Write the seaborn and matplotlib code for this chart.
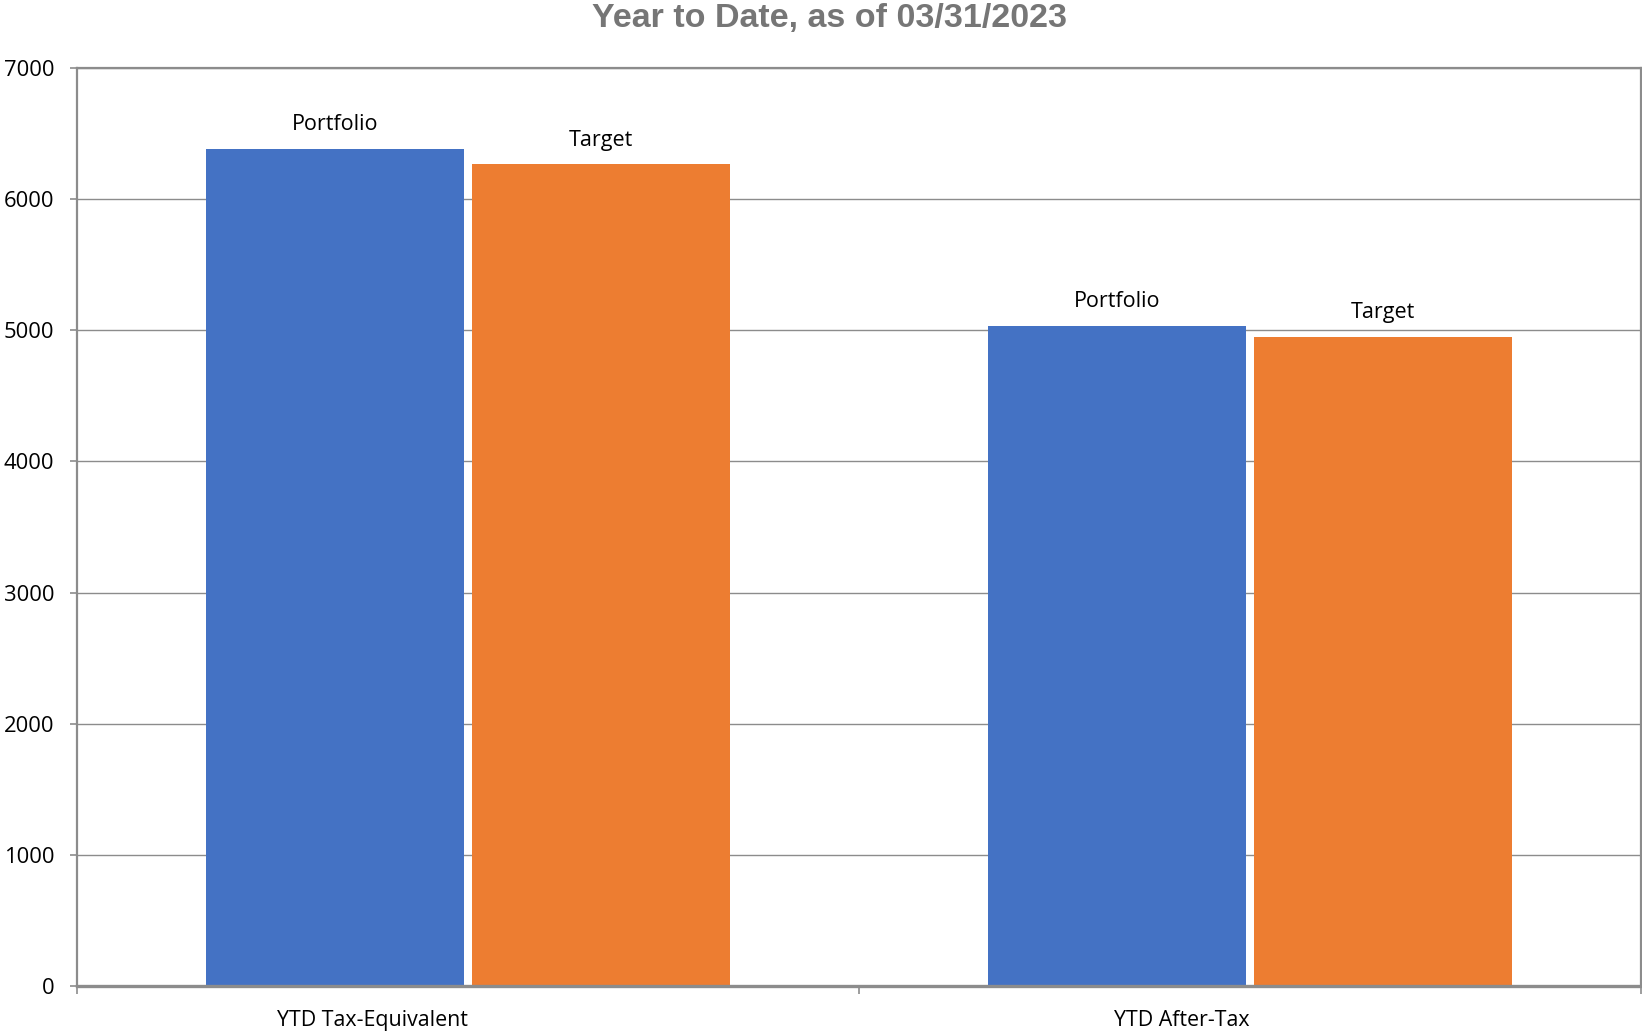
import matplotlib
matplotlib.use("Agg")
import matplotlib.pyplot as plt
import seaborn as sns
import pandas as pd
import numpy as np

# Data
categories = ["YTD Tax-Equivalent", "YTD After-Tax"]
series = ["Portfolio", "Target"]
portfolio_values = [6380, 5035]
target_values = [6265, 4950]
y_ticks = [0, 1000, 2000, 3000, 4000, 5000, 6000, 7000]
title_text = "Year to Date, as of 03/31/2023"
colors = ["#4472C4", "#ED7D31"]

df = pd.DataFrame({
    "category": categories * 2,
    "series": [series[0]] * len(categories) + [series[1]] * len(categories),
    "value": portfolio_values + target_values,
})

sns.set_theme(style="white")
plt.rcParams["font.family"] = ["Open Sans", "DejaVu Sans"]

fig = plt.figure(figsize=(16.42, 10.32), dpi=100)
ax = fig.add_axes([77 / 1642, 1 - 986 / 1032, (1641 - 77) / 1642, (986 - 68) / 1032])

sns.barplot(data=df, x="category", y="value", hue="series", order=categories,
            hue_order=series, palette=colors, width=0.681, gap=0.033,
            saturation=1, ax=ax, legend=False, edgecolor="none", linewidth=0)

ax.set_xlim(-0.5, len(categories) - 0.5)
ax.set_ylim(0, 7000)
ax.set_yticks(y_ticks)
ax.set_yticklabels([str(v) for v in y_ticks], fontsize=15.8, color="black")
ax.set_xlabel("")
ax.set_ylabel("")

# gridlines
ax.yaxis.grid(True, color="#8c8c8c", linewidth=1.0)
ax.set_axisbelow(True)

grey = "#8c8c8c"
for side in ["left", "right", "top"]:
    ax.spines[side].set_color(grey)
    ax.spines[side].set_linewidth(1.6)
ax.spines["bottom"].set_color(grey)
ax.spines["bottom"].set_linewidth(2.4)

ax.tick_params(axis="y", which="major", length=5, width=1.2, color=grey,
               pad=11.5, direction="out", left=True)

# x: labels right-aligned at category centers, ticks at boundaries
ax.set_xticks(range(len(categories)))
ax.set_xticklabels(categories, fontsize=15.4, color="black", ha="right")
ax.tick_params(axis="x", which="major", length=0, pad=17.5)
ax.set_xticks(np.arange(-0.5, len(categories), 1.0), minor=True)
ax.tick_params(axis="x", which="minor", length=6, width=1.2, color=grey,
               direction="out", bottom=True)

# bar labels with series names
for container, name in zip(ax.containers, series):
    ax.bar_label(container, labels=[name] * len(container), padding=10,
                 fontsize=15.5, color="black")

fig.text(829 / 1642, 1 - 18 / 1032, title_text, ha="center", va="center",
         fontsize=24.5, fontweight="bold", color="#767676",
         family=["Liberation Sans", "DejaVu Sans"])

fig.savefig("out.png", dpi=100)
